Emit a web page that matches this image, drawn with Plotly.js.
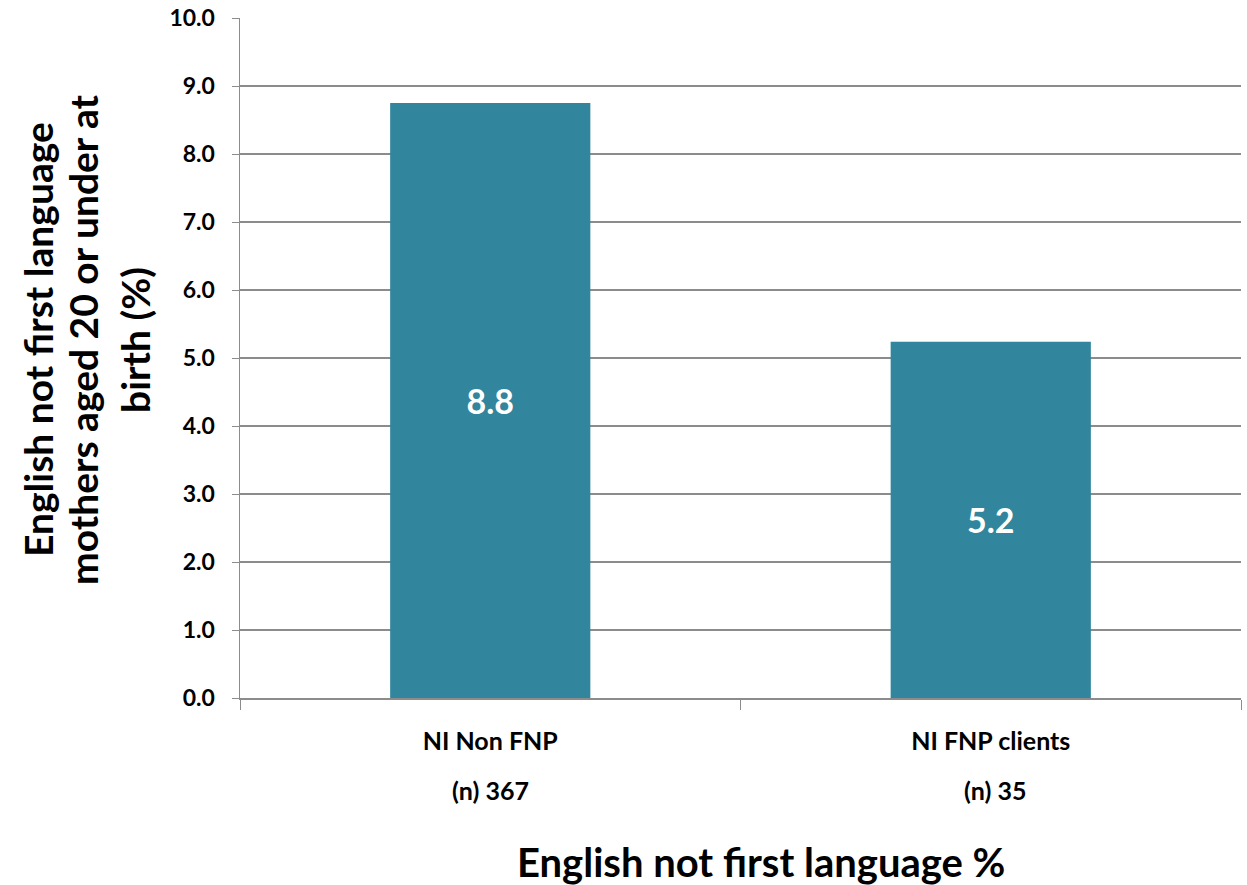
<!DOCTYPE html>
<html><head><meta charset="utf-8">
<script src="https://cdn.plot.ly/plotly-3.0.1.min.js"></script>
<style>html,body{margin:0;padding:0;background:#fff}#chart{width:1247px;height:885px}</style>
</head><body><div id="chart"></div>
<script>
const categories = ["NI Non FNP", "NI FNP clients"];
const sampleSizes = ["(n) 367", "(n) 35"];
const values = [8.75, 5.24];
const valueLabels = ["8.8", "5.2"];
const yTitleLines = ["English not first language", "mothers aged 20 or under at", "birth (%)"];
const xTitle = "English not first language %";

const FONT = "Lato, 'Open Sans', sans-serif";
const grid = "#8c8c8c";

const trace = {
  type: "bar", x: categories, y: values, text: valueLabels,
  textposition: "inside", insidetextanchor: "middle", texttemplate: "%{text}",
  textfont: {family: FONT, size: 34, color: "#ffffff", weight: "bold"},
  marker: {color: "#31859c"}, width: 0.4, hoverinfo: "skip"
};

const annotations = [];
categories.forEach((c, i) => {
  annotations.push({x: c, xref: "x", y: 0, yref: "paper", yanchor: "middle", yshift: -92,
    xshift: i === 1 ? 4 : 0,
    text: "<b>" + sampleSizes[i] + "</b>", showarrow: false,
    font: {family: FONT, size: 25, color: "#000"}});
});
const yTitleX = [38, 83, 135];
yTitleLines.forEach((t, i) => {
  annotations.push({x: 0, xref: "paper", xshift: yTitleX[i] - 240, xanchor: "center",
    y: 0.5, yref: "paper", yshift: 18, textangle: -90, text: "<b>" + t + "</b>",
    showarrow: false, font: {family: FONT, size: 39, color: "#000"}});
});
annotations.push({x: 0.52, xref: "paper", y: 0, yref: "paper", yshift: -164, yanchor: "middle",
  text: "<b>" + xTitle + "</b>", showarrow: false,
  font: {family: FONT, size: 40, color: "#000"}});

const layout = {
  width: 1247, height: 885, showlegend: false,
  margin: {l: 240, r: 6, t: 18, b: 187},
  paper_bgcolor: "#fff", plot_bgcolor: "#fff",
  bargap: 0.6,
  xaxis: {type: "category", tickmode: "array", tickvals: categories,
    ticktext: categories.map(c => "<b>" + c + "</b>"),
    tickson: "boundaries", ticks: "outside", ticklen: 10, tickcolor: grid,
    showline: true, linecolor: grid, linewidth: 1.5, showgrid: false,
    tickfont: {family: FONT, size: 25, color: "#000"}, ticklabelstandoff: 20},
  yaxis: {range: [0, 10], tickmode: "linear", dtick: 1, tick0: 0, tickformat: ".1f",
    ticks: "outside", ticklen: 7, tickcolor: grid,
    showline: true, linecolor: grid, linewidth: 1.5,
    showgrid: true, gridcolor: grid, gridwidth: 1.5, zeroline: false,
    tickfont: {family: FONT, size: 23, color: "#000", weight: "bold"}, ticklabelstandoff: 12},
  annotations: annotations
};
Plotly.newPlot("chart", [trace], layout, {displayModeBar: false, staticPlot: true});
</script></body></html>
